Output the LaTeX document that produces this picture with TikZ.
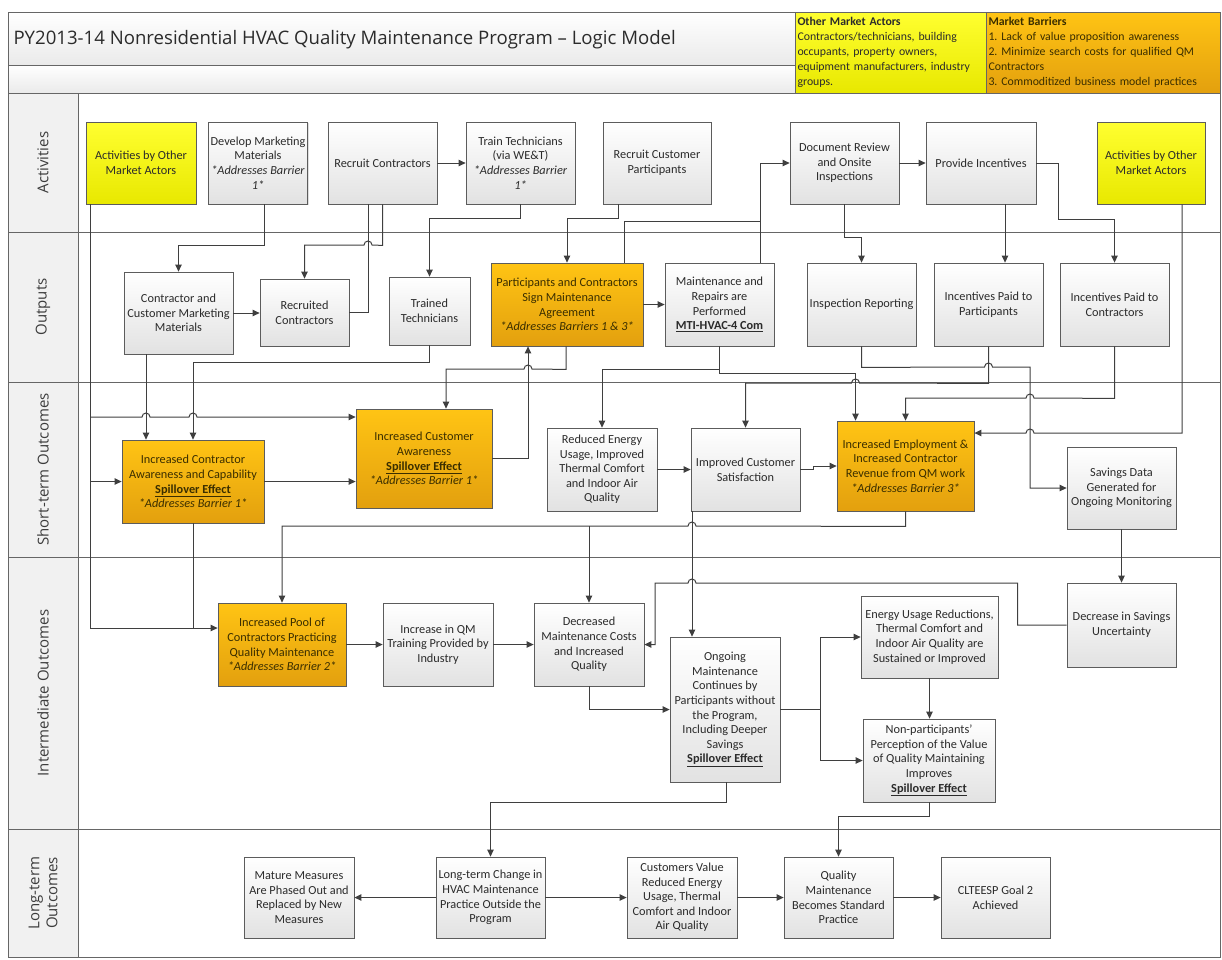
\documentclass[tikz,border=0pt]{standalone}
\usepackage{fontspec}
\setmainfont{Carlito}
\newfontfamily\headfont{Open Sans}
\usepackage{tikz}
\usetikzlibrary{arrows.meta, positioning, shadows}

\definecolor{lineC}{HTML}{3F3F3F}
\definecolor{edgeC}{HTML}{5C5C5C}
\definecolor{frameC}{HTML}{666666}
\definecolor{txtC}{HTML}{2B2B2B}
\definecolor{hotTxt}{HTML}{3A2E00}
\definecolor{boxBot}{HTML}{E2E2E2}
\definecolor{orgTop}{HTML}{FFC414}
\definecolor{orgBot}{HTML}{E3A00E}
\definecolor{ylwTop}{HTML}{FFFF30}
\definecolor{ylwBot}{HTML}{E8E800}
\definecolor{bandC}{HTML}{EAEAEA}
\definecolor{laneC}{HTML}{F1F1F1}
\definecolor{laneTxt}{HTML}{3C3C3C}

\begin{document}
\frenchspacing
\begin{tikzpicture}[x=1pt, y=-1pt, >={Triangle[length=7pt,width=6.5pt]},
  box/.style={draw=edgeC, line width=0.8pt, top color=white, bottom color=boxBot,
    minimum width=109pt, minimum height=82pt, inner sep=2pt, align=center,
    font=\fontsize{12.3}{14.6}\selectfont, text=txtC,
    drop shadow={shadow xshift=1.3pt, shadow yshift=-1.3pt, opacity=0.25}},
  hot/.style={box, top color=orgTop, bottom color=orgBot, text=hotTxt},
  ylw/.style={box, top color=ylwTop, bottom color=ylwBot},
  hdr/.style={draw=frameC, line width=0.8pt, inner sep=2pt, align=left,
    font=\fontsize{11.8}{15}\selectfont, text=txtC},
  link/.style={draw=lineC, line width=1pt},
  arr/.style={link, ->},
  frame/.style={draw=frameC, line width=0.8pt},
  lanelabel/.style={rotate=90, align=center, text=laneTxt,
    font=\headfont\fontsize{15}{18}\selectfont}]
\useasboundingbox (0,0) rectangle (1222,959);

% frame and lanes
\draw[frame, top color=white, bottom color=bandC] (8,12) rectangle (795,65);
\draw[frame, top color=white, bottom color=bandC] (8,65) rectangle (795,93);
\fill[laneC] (8,93) rectangle (78,957);
\draw[frame] (8,93) rectangle (1220,957);
\draw[frame] (78,93) -- (78,957);
\draw[frame] (8,232) -- (1220,232);
\draw[frame] (8,382) -- (1220,382);
\draw[frame] (8,557) -- (1220,557);
\draw[frame] (8,829) -- (1220,829);

\node[anchor=west, text=txtC, font=\headfont\fontsize{18.6}{21}\selectfont] (title) at (10,40)
  {PY2013-14 Nonresidential HVAC Quality Maintenance Program – Logic Model};
\node[hdr, top color=ylwTop, bottom color=ylwBot, minimum width=191pt, minimum height=81pt,
  text width=186pt] (actors) at (890.5,52.5)
  {\textbf{Other Market Actors}\\Contractors/technicians, building\\occupants, property owners,\\equipment manufacturers, industry\\groups.};
\node[hdr, top color=orgTop, bottom color=orgBot, text=hotTxt, minimum width=234pt,
  minimum height=81pt, text width=229pt] (barriers) at (1103,52.5)
  {\textbf{Market Barriers}\\1. Lack of value proposition awareness\\2. Minimize search costs for qualified QM\\Contractors\\3. Commoditized business model practices};

\node[lanelabel] (lnAct) at (43,162.5) {Activities};
\node[lanelabel] (lnOut) at (43,307) {Outputs};
\node[lanelabel] (lnShort) at (43,469.5) {Short-term Outcomes};
\node[lanelabel] (lnMid) at (43,693) {Intermediate Outcomes};
\node[lanelabel] (lnLong) at (43,893) {Long-term\\Outcomes};

% activities
\node[ylw, minimum width=110pt] (actL) at (141,163) {Activities by Other\\Market Actors};
\node[box, minimum width=98pt] (devmkt) at (258,163) {Develop Marketing\\Materials\\\textit{*Addresses Barrier}\\\textit{1*}};
\node[box] (recctr) at (382.5,163) {Recruit Contractors};
\node[box] (train) at (520.5,163) {Train Technicians\\(via WE\&T)\\\textit{*Addresses Barrier}\\\textit{1*}};
\node[box, minimum width=108pt] (reccust) at (657,163) {Recruit Customer\\Participants};
\node[box] (docrev) at (844.5,163) {Document Review\\and Onsite\\Inspections};
\node[box, minimum width=110pt] (incent) at (981,163) {Provide Incentives};
\node[ylw, minimum width=108pt] (actR) at (1151,163) {Activities by Other\\Market Actors};

% outputs
\node[box] (mktmat) at (178.5,313) {Contractor and\\Customer Marketing\\Materials};
\node[box, minimum width=89pt, minimum height=67pt] (recctd) at (304.5,312.5) {Recruited\\Contractors};
\node[box, minimum width=81pt, minimum height=68pt] (trained) at (429.5,311) {Trained\\Technicians};
\node[hot, minimum width=152pt, minimum height=83pt] (agree) at (567,304.5) {Participants and Contractors\\Sign Maintenance\\Agreement\\\textit{*Addresses Barriers 1 \& 3*}};
\node[box, minimum height=83pt] (maint) at (719.5,304.5) {Maintenance and\\Repairs are\\Performed\\\underline{\textbf{MTI-HVAC-4 Com}}};
\node[box, minimum height=83pt] (inspect) at (861.5,304.5) {Inspection Reporting};
\node[box, minimum height=83pt] (paidpart) at (988.5,304.5) {Incentives Paid to\\Participants};
\node[box, minimum height=83pt] (paidctr) at (1114.5,304.5) {Incentives Paid to\\Contractors};

% short-term outcomes
\node[hot, minimum width=142pt, minimum height=83pt] (ctraw) at (193,481.5) {Increased Contractor\\Awareness and Capability\\\underline{\textbf{Spillover Effect}}\\\textit{*Addresses Barrier 1*}};
\node[hot, minimum width=136pt, minimum height=99pt] (custaw) at (424,458.5) {Increased Customer\\Awareness\\\underline{\textbf{Spillover Effect}}\\\textit{*Addresses Barrier 1*}};
\node[box, minimum width=110pt, minimum height=83pt] (reduce) at (602,469.5) {Reduced Energy\\Usage, Improved\\Thermal Comfort\\and Indoor Air\\Quality};
\node[box, minimum height=83pt] (satisf) at (745.5,469.5) {Improved Customer\\Satisfaction};
\node[hot, minimum width=137pt, minimum height=90pt] (empl) at (905.5,466) {Increased Employment \&\\Increased Contractor\\Revenue from QM work\\\textit{*Addresses Barrier 3*}};
\node[box] (savdata) at (1121.5,488) {Savings Data\\Generated for\\Ongoing Monitoring};

% intermediate outcomes
\node[hot, minimum width=128pt, minimum height=83pt] (pool) at (282,644.5) {Increased Pool of\\Contractors Practicing\\Quality Maintenance\\\textit{*Addresses Barrier 2*}};
\node[box, minimum width=110pt, minimum height=83pt] (qmtrain) at (438,644.5) {Increase in QM\\Training Provided by\\Industry};
\node[box, minimum width=110pt, minimum height=83pt] (decr) at (589,644.5) {Decreased\\Maintenance Costs\\and Increased\\Quality};
\node[box, minimum width=110pt, minimum height=145pt] (ongoing) at (725,709.5) {Ongoing\\Maintenance\\Continues by\\Participants without\\the Program,\\Including Deeper\\Savings\\\underline{\textbf{Spillover Effect}}};
\node[box, minimum width=137pt] (sustain) at (929.5,637) {Energy Usage Reductions,\\Thermal Comfort and\\Indoor Air Quality are\\Sustained or Improved};
\node[box, minimum width=132pt, minimum height=83pt] (nonpart) at (929,760.5) {Non-participants’\\Perception of the Value\\of Quality Maintaining\\Improves\\\underline{\textbf{Spillover Effect}}};
\node[box, minimum height=84pt] (unc) at (1121.5,625) {Decrease in Savings\\Uncertainty};

% long-term outcomes
\node[box, minimum width=110pt, minimum height=81pt] (phased) at (299,897.5) {Mature Measures\\Are Phased Out and\\Replaced by New\\Measures};
\node[box, minimum height=81pt] (ltchange) at (490.5,897.5) {Long-term Change in\\HVAC Maintenance\\Practice Outside the\\Program};
\node[box, minimum width=110pt, minimum height=81pt] (custval) at (682,897.5) {Customers Value\\Reduced Energy\\Usage, Thermal\\Comfort and Indoor\\Air Quality};
\node[box, minimum height=81pt] (stdprac) at (838.5,897.5) {Quality\\Maintenance\\Becomes Standard\\Practice};
\node[box, minimum height=81pt] (goal) at (995.5,897.5) {CLTEESP Goal 2\\Achieved};

% junctions
\coordinate (toDoc) at (760,221);
\coordinate (trkA) at (90,417);
\coordinate (trkC) at (90,628);
\coordinate (toDecr) at (589,526);

% activities -> outputs
\draw[arr] (recctr) -- (train);
\draw[arr] (docrev) -- (incent);
\draw[arr] ([xshift=6pt]devmkt.south) -- ++(0,41) -| (mktmat.north);
\draw[arr] (recctr.south) -- ++(0,41) -- (372,245) arc[start angle=0, end angle=180, radius=4pt] -| (recctd.north);
\draw[link] (recctd.east) -| ([xshift=-14.5pt]recctr.south);
\draw[arr] (train.south) -- ++(0,14) -| (trained.north);
\draw[arr] ([xshift=-39pt]reccust.south) -- ++(0,14) -| (agree.north);
\draw[arr] ([xshift=57pt]agree.north) |- (toDoc) |- (docrev.west);
\draw[link] ([xshift=40.5pt]maint.north) -- (toDoc);
\draw[arr] (docrev.south) -- ++(0,33) -| (inspect.north);
\draw[arr] ([xshift=24pt]incent.south) -- ([xshift=16.5pt]paidpart.north);
\draw[arr] (incent.east) -| ++(22,56) -| (paidctr.north);

% left trunk
\draw[arr] ([xshift=-51pt]actL.south) |- ([yshift=16.5pt]pool.west);
\draw[arr] (trkA) -- (142,417) arc[start angle=180, end angle=0, radius=4pt] -- (189,417)
  arc[start angle=180, end angle=0, radius=4pt] -- ([yshift=41.5pt]custaw.west);
\draw[arr] (ctraw.west -| trkA) -- (ctraw.west);

% outputs -> short-term
\draw[arr] (mktmat.east) -- (mktmat.east -| recctd.west);
\draw[arr] (agree.east) -- (maint.west);
\draw[arr] ([xshift=-32.5pt]mktmat.south) -- ([xshift=-47pt]ctraw.north);
\draw[arr] (trained.south) -- ++(0,17) -| (ctraw.north);
\draw[arr] ([xshift=-1pt]agree.south) -- ++(0,23) -- (532,369) arc[start angle=0, end angle=180, radius=4pt] -| ([xshift=22pt]custaw.north);
\draw[arr] (custaw.east) -| ([xshift=-39pt]agree.south);
\draw[arr] (maint.south) -- ++(0,23) -| (reduce.north);
\draw[arr] (maint.south) -- ++(0,27) -| ([xshift=-50pt]empl.north);
\draw[arr] (inspect.south) -- ++(0,21) -- (984.5,367) arc[start angle=180, end angle=0, radius=4pt] -- (1030,367) |- (savdata.west);
\draw[arr] (paidpart.south) -- ++(0,37) -- (859.5,383) arc[start angle=0, end angle=180, radius=4pt] -| (satisf.north);
\draw[arr] (paidctr.south) -- ++(0,52) -- (1034,398) arc[start angle=0, end angle=180, radius=4pt] -| (empl.north);
\draw[arr] ([xshift=31pt]actR.south) -- (1182,433) -- (1034,433) arc[start angle=0, end angle=180, radius=4pt] -- ([yshift=33pt]empl.east);

% short-term -> intermediate
\draw[arr] (ctraw.east) -- (ctraw.east -| custaw.west);
\draw[arr] (reduce) -- (satisf);
\draw[arr] (satisf.east) -- ++(13,0) |- (empl.west);
\draw[link] (ctraw.south) -- (ctraw.south |- trkC);
\draw[arr] (empl.south) -- ++(0,15) -- (696,526) arc[start angle=0, end angle=180, radius=4pt] -| (pool.north);
\draw[arr] (toDecr) -- (decr.north);
\draw[arr] ([xshift=-53.5pt]satisf.south) -- ([xshift=-33pt]ongoing.north);
\draw[arr] (savdata) -- (unc);

% intermediate
\draw[arr] (pool) -- (qmtrain);
\draw[arr] (qmtrain) -- (decr);
\draw[arr] (unc.west) -- ++(-49,0) |- (696,583) arc[start angle=0, end angle=180, radius=4pt] -- (655,583) |- (decr.east);
\draw[arr] (decr.south) |- (ongoing.west);
\draw[arr] (ongoing.east) -- ++(40,0) |- (sustain.west);
\draw[arr] ([xshift=40pt]ongoing.east) |- (nonpart.west);
\draw[arr] (sustain.south) -- (sustain.south |- nonpart.north);

% long-term
\draw[arr] ([xshift=1pt]ongoing.south) -- ++(0,20) -| (ltchange.north);
\draw[arr] (nonpart.south) -- ++(0,14) -| (stdprac.north);
\draw[arr] (ltchange) -- (phased);
\draw[arr] (ltchange) -- (custval);
\draw[arr] (custval) -- (stdprac);
\draw[arr] (stdprac) -- (goal);
\end{tikzpicture}
\end{document}
